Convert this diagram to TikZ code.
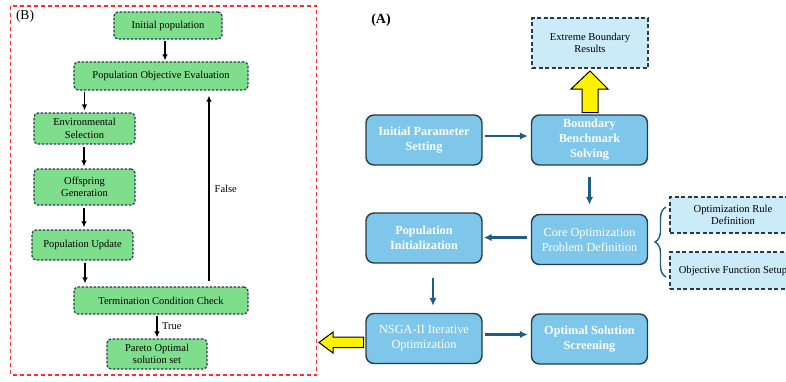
\documentclass[tikz,border=0pt]{standalone}
\usepackage{fontspec}
\setmainfont{Liberation Serif}
\usetikzlibrary{positioning, decorations.pathreplacing, arrows.meta}
\definecolor{boxgreen}{HTML}{7FDE8B}
\definecolor{boxblue}{HTML}{7EC6EA}
\definecolor{noteblue}{HTML}{CBEBF9}
\definecolor{edgedark}{HTML}{263C4A}
\definecolor{flowblue}{HTML}{1F5E82}
\definecolor{framered}{HTML}{FF2E2E}

\begin{document}
\begin{tikzpicture}[x=1pt, y=-1pt,
        greenbox/.style={draw=edgedark, fill=boxgreen, dashed, dash pattern=on 2.5pt off 1.5pt, line width=1.2pt, rounded corners=4pt, align=center, minimum height=27pt, font=\fontsize{10.5}{12.3}\selectfont, inner sep=1pt},
        bluebox/.style={draw=edgedark, fill=boxblue, line width=1.4pt, rounded corners=8pt, align=center, minimum width=116pt, minimum height=50pt, text=white, font=\fontsize{12.3}{15}\selectfont, inner sep=1pt},
        notebox/.style={draw=edgedark, fill=noteblue, dashed, dash pattern=on 4pt off 2.5pt, line width=1.2pt, align=center, font=\fontsize{10.6}{12.7}\selectfont, inner sep=1pt},
        barrow/.style={-{Latex[length=6pt, width=5.5pt]}, line width=1.7pt, black},
        farrow/.style={-{Latex[length=8pt, width=7.5pt]}, line width=2.3pt, flowblue},
        fat/.style={draw=black, fill=yellow, line width=1pt, line join=miter}]
        \clip (0,0) rectangle (786,381);
        % (B) inner loop
        \draw[framered, line width=1.3pt, dashed, dash pattern=on 4pt off 3pt] (10.7,6) rectangle (316.7,375);
        \node (lblb) at (25,16) {\fontsize{13.5}{15}\selectfont (B)};
        \node[greenbox, minimum width=108pt] (ipop) at (168,25.5) {Initial population};
        \node[greenbox, minimum width=174pt, minimum height=28pt] (poe) at (161,76) {Population Objective Evaluation};
        \node[greenbox, minimum width=101pt, minimum height=31pt] (envsel) at (84.5,128.5) {Environmental\\Selection};
        \node[greenbox, minimum width=101pt, minimum height=36pt] (offgen) at (84.5,187) {Offspring\\Generation};
        \node[greenbox, minimum width=101pt, minimum height=30pt] (popupd) at (82.5,245) {Population Update};
        \node[greenbox, minimum width=174pt] (term) at (161,300.5) {Termination Condition Check};
        \node[greenbox, minimum width=100pt, minimum height=30pt] (pareto) at (157,354) {Pareto Optimal\\solution set};
        \draw[barrow, shorten <=1pt, shorten >=1pt] ([xshift=-3pt]ipop.south) -- ([xshift=-3pt]ipop.south |- poe.north);
        \draw[barrow, shorten <=1pt, shorten >=2pt] (envsel.north |- poe.south) -- (envsel.north);
        \draw[barrow, shorten <=2pt, shorten >=2pt] ([xshift=-0.5pt]envsel.south) -- ([xshift=-0.5pt]offgen.north);
        \draw[barrow, shorten <=2pt, shorten >=2pt] ([xshift=-0.5pt]offgen.south) -- ([xshift=-0.5pt]offgen.south |- popupd.north);
        \draw[barrow, shorten <=2pt, shorten >=3pt] ([xshift=2.5pt]popupd.south) -- ([xshift=2.5pt]popupd.south |- term.north);
        \draw[barrow, shorten <=1pt, shorten >=1pt] (pareto.north |- term.south) -- (pareto.north)
                node[midway, right=1pt, font=\fontsize{10.5}{12}\selectfont] {True};
        \draw[barrow, shorten <=5pt, shorten >=5pt] ([xshift=48pt]term.north) -- ([xshift=48pt]term.north |- poe.south)
                node[midway, right=1.5pt, font=\fontsize{10.5}{12}\selectfont] {False};
        % (A) overall flow
        \node (lbla) at (381,20) {\fontsize{14}{16}\selectfont\textbf{(A)}};
        \node[notebox, minimum width=116pt, minimum height=50pt] (ebr) at (590,43) {Extreme Boundary\\Results};
        \node[bluebox] (ips) at (424,140) {\textbf{Initial Parameter}\\\textbf{Setting}};
        \node[bluebox] (bbs) at (589.5,140) {\textbf{Boundary}\\\textbf{Benchmark}\\\textbf{Solving}};
        \node[bluebox] (core) at (589.5,239.5) {Core Optimization\\Problem Definition};
        \node[bluebox] (popinit) at (424,238) {\textbf{Population}\\\textbf{Initialization}};
        \node[bluebox] (nsga) at (424,338.5) {NSGA-II Iterative\\Optimization};
        \node[bluebox] (oss) at (589.5,339) {\textbf{Optimal Solution}\\\textbf{Screening}};
        \node[notebox, minimum width=126pt, minimum height=36pt] (ord) at (733,215) {Optimization Rule\\Definition};
        \node[notebox, minimum width=126pt, minimum height=37pt] (ofs) at (733,270.5) {Objective Function Setup};
        \draw[farrow, shorten <=2pt, shorten >=3pt] ([yshift=4pt]ips.east) -- ([yshift=4pt]bbs.west);
        \draw[farrow, shorten <=11pt, shorten >=9pt] (bbs.south) -- (core.north);
        \draw[farrow, shorten <=4pt, shorten >=1pt] ([yshift=2pt]core.west) -- ([yshift=2pt]core.west -| popinit.east);
        \draw[farrow, shorten <=14pt, shorten >=7pt] ([xshift=9pt]popinit.south) -- ([xshift=9pt]nsga.north);
        \draw[farrow, shorten <=2pt, shorten >=3pt] ([yshift=4pt]nsga.east) -- ([yshift=4pt]nsga.east -| oss.west);
        \draw[flowblue, line width=1.4pt, decorate, decoration={brace, amplitude=11pt}] (666,277) -- (666,207);
        % big yellow arrows
        \draw[fat] (582,112.5) -- (582,89) -- (571,89) -- (590,71) -- (608,89) -- (598,89) -- (598,112.5) -- cycle;
        \draw[fat] (363.5,337) -- (333,337) -- (333,332) -- (319,342.5) -- (333,353) -- (333,347.5) -- (363.5,347.5) -- cycle;
\end{tikzpicture}
\end{document}
